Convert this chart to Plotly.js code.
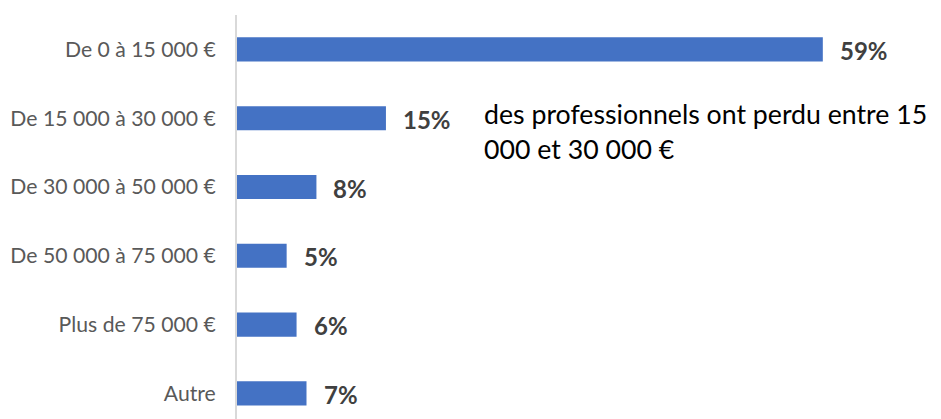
<!DOCTYPE html>
<html>
<head>
<meta charset="utf-8">
<script src="https://cdn.plot.ly/plotly-3.0.1.min.js"></script>
<style>html,body{margin:0;padding:0;background:#fff;}#chart{width:941px;height:419px;}</style>
</head>
<body>
<div id="chart"></div>
<script>
const categories = ["De 0 à 15 000 €", "De 15 000 à 30 000 €", "De 30 000 à 50 000 €", "De 50 000 à 75 000 €", "Plus de 75 000 €", "Autre"];
const values = [59, 15, 8, 5, 6, 7];
const valueLabels = ["59%", "15%", "8%", "5%", "6%", "7%"];
const noteLines = ["des professionnels ont perdu entre 15", "000 et 30 000 €"];

const trace = {
  type: 'bar',
  orientation: 'h',
  x: values,
  y: categories,
  width: 0.35,
  marker: {color: '#4472C4'},
  hoverinfo: 'none'
};

const annotations = values.map((v, i) => ({
  x: v, y: categories[i], xref: 'x', yref: 'y',
  text: valueLabels[i], showarrow: false,
  xanchor: 'left', yanchor: 'middle', xshift: 15, yshift: -1,
  font: {family: 'Lato, sans-serif', size: 24, color: '#404040', weight: 'bold'}
}));
annotations.push({
  x: 0.35, y: 0.755, xref: 'paper', yref: 'paper', text: noteLines[0],
  showarrow: false, xanchor: 'left', yanchor: 'middle',
  font: {family: 'Lato, sans-serif', size: 26.7, color: '#000000'}
});
annotations.push({
  x: 0.35, y: 0.668, xref: 'paper', yref: 'paper', text: noteLines[1],
  showarrow: false, xanchor: 'left', yanchor: 'middle',
  font: {family: 'Lato, sans-serif', size: 26.7, color: '#000000'}
});

const layout = {
  width: 941, height: 419,
  margin: {l: 237, r: 4, t: 15, b: 0, pad: 0},
  paper_bgcolor: '#ffffff', plot_bgcolor: '#ffffff',
  showlegend: false,
  xaxis: {range: [0, 70.5], showgrid: false, zeroline: false, showticklabels: false, showline: false, fixedrange: true},
  yaxis: {
    type: 'category', range: [5.372, -0.5], autorange: false,
    showgrid: false, zeroline: false,
    showline: true, linecolor: '#d9d9d9', linewidth: 2,
    ticks: 'outside', ticklen: 15, tickcolor: 'rgba(0,0,0,0)',
    tickfont: {family: 'Lato, sans-serif', size: 21.2, color: '#595959'}
  },
  annotations: annotations
};

Plotly.newPlot('chart', [trace], layout, {displayModeBar: false, staticPlot: true});
</script>
</body>
</html>
